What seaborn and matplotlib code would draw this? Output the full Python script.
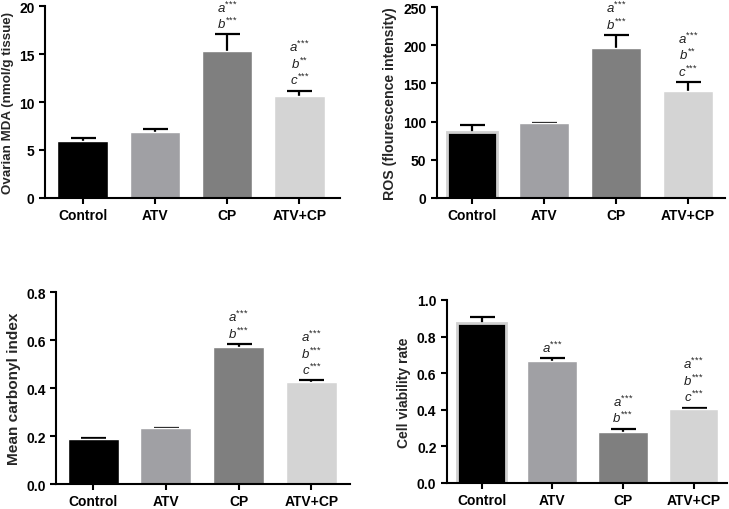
import numpy as np
import pandas as pd
import matplotlib
matplotlib.use("Agg")
import matplotlib.pyplot as plt
import seaborn as sns

# ─── DATA ────────────────────────────────────────────────────────────────────

groups = ["Control", "ATV", "CP", "ATV+CP"]
bar_colors = ["#000000", "#a0a0a4", "#7f7f7f", "#d4d4d4"]

mda_mean = [5.95, 6.85, 15.3, 10.6]
mda_err = [0.25, 0.3, 1.75, 0.6]
mda_notes = [[], [], ["a***", "b***"], ["a***", "b**", "c***"]]

ros_mean = [87, 97.7, 197, 140]
ros_err = [8, 0.8, 16, 12]
ros_notes = [[], [], ["a***", "b***"], ["a***", "b**", "c***"]]

carb_mean = [0.187, 0.232, 0.570, 0.424]
carb_err = [0.006, 0.003, 0.013, 0.008]
carb_notes = [[], [], ["a***", "b***"], ["a***", "b***", "c***"]]

viab_mean = [0.875, 0.664, 0.277, 0.405]
viab_err = [0.032, 0.018, 0.019, 0.006]
viab_notes = [[], ["a***"], ["a***", "b***"], ["a***", "b***", "c***"]]

# ─── STYLE ───────────────────────────────────────────────────────────────────

sns.set_style("ticks")
plt.rcParams["font.family"] = ["Liberation Sans", "DejaVu Sans"]
plt.rcParams.update({
    "mathtext.fontset": "custom",
    "mathtext.it": "Liberation Sans:italic",
    "mathtext.rm": "Liberation Sans",
    "axes.linewidth": 1.5,
    "xtick.major.width": 1.5,
    "ytick.major.width": 1.5,
    "xtick.major.size": 4,
    "ytick.major.size": 4,
    "xtick.color": "black",
    "ytick.color": "black",
    "axes.edgecolor": "black",
})

fig = plt.figure(figsize=(7.29, 5.10), dpi=100)


def note_text(txt):
    # italic letter + tight superscript stars
    stars = "".join("{*}" for _ in txt[1:])
    return f"${txt[0]}^{{{stars}}}$"


def panel(rect, means, errs, notes, ylabel, ylim, yticks, yfmt, xlim,
          label_size, first_off=11, edge_control=False):
    ax = fig.add_axes(rect)
    df = pd.DataFrame({"group": groups, "value": means})
    sns.barplot(data=df, x="group", y="value", hue="group",
                palette=dict(zip(groups, bar_colors)), legend=False,
                width=0.7, errorbar=None, ax=ax, saturation=1)
    if edge_control:
        ax.patches[0].set_edgecolor("#d0d0d0")
        ax.patches[0].set_linewidth(2)
    ax.errorbar(range(len(groups)), means, yerr=errs, fmt="none",
                ecolor="black", elinewidth=1.6, capsize=9, capthick=1.6,
                zorder=0.5)
    for i, lines in enumerate(notes):
        top = means[i] + errs[i]
        for k, txt in enumerate(reversed(lines)):
            off = first_off + k * 16.5
            ax.annotate(note_text(txt), (i, top),
                        xytext=(0, off * 0.72), textcoords="offset points",
                        ha="center", va="center", fontsize=9.5,
                        color="#222222")
    ax.set_ylim(*ylim)
    ax.set_xlim(*xlim)
    ax.set_yticks(yticks)
    ax.set_yticklabels([yfmt.format(t) for t in yticks],
                       fontsize=10, fontweight="bold")
    ax.set_xticks(range(len(groups)))
    ax.set_xticklabels(groups, fontsize=10, fontweight="bold")
    ax.set_xlabel("")
    ax.set_ylabel(ylabel, fontsize=label_size, fontweight="bold", labelpad=4)
    sns.despine(ax=ax)
    return ax


panel([0.0617, 0.610, 0.4046, 0.376], mda_mean, mda_err, mda_notes,
      "Ovarian MDA (nmol/g tissue)", (0, 20), [0, 5, 10, 15, 20], "{:.0f}",
      (-0.52, 3.56), 9.6)

panel([0.599, 0.610, 0.395, 0.374], ros_mean, ros_err, ros_notes,
      "ROS (flourescence intensity)", (0, 250), [0, 50, 100, 150, 200, 250],
      "{:.0f}", (-0.49, 3.51), 10.2, edge_control=True)

panel([0.0768, 0.049, 0.4033, 0.376], carb_mean, carb_err, carb_notes,
      "Mean carbonyl index", (0, 0.8), [0, 0.2, 0.4, 0.6, 0.8], "{:.1f}",
      (-0.51, 3.53), 11.1)

panel([0.613, 0.051, 0.384, 0.359], viab_mean, viab_err, viab_notes,
      "Cell viability rate", (0, 1.0), [0, 0.2, 0.4, 0.6, 0.8, 1.0],
      "{:.1f}", (-0.49, 3.47), 10, edge_control=True)

fig.savefig("out.png", dpi=100)
plt.close(fig)
